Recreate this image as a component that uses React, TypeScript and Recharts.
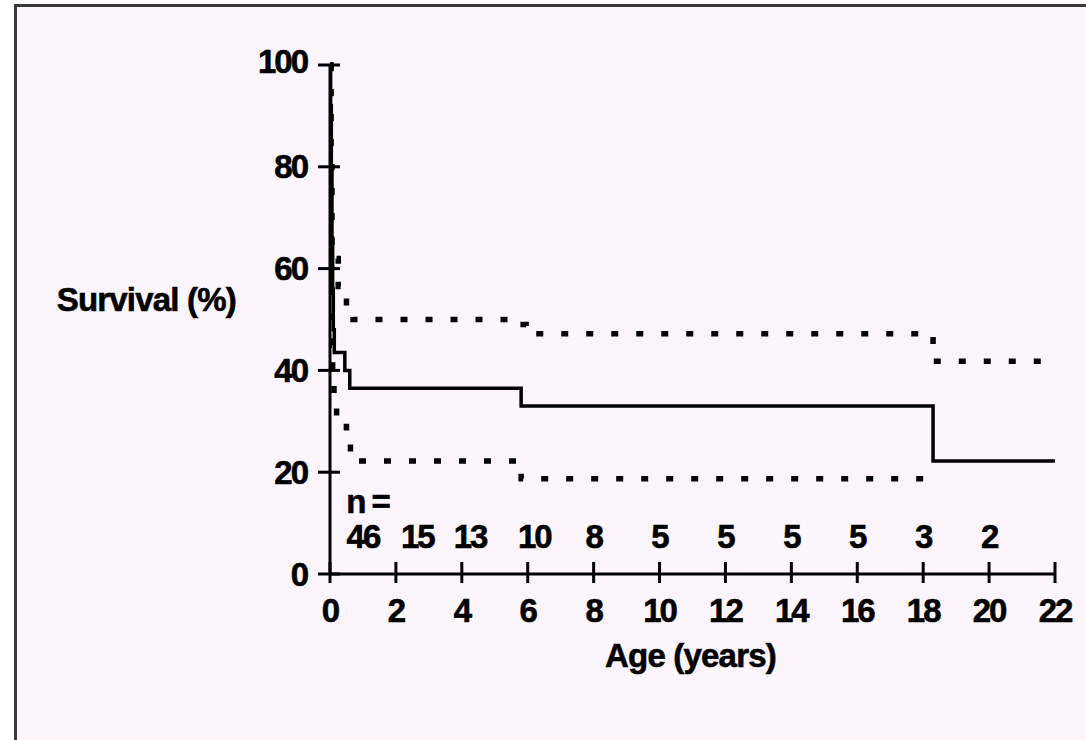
import { ComposedChart, Line, Scatter, XAxis, YAxis, Label } from 'recharts'

// Kaplan-Meier survival (step corners: [age in years, survival %])
const survivalSteps: [number, number][] = [
  [0, 100], [0.02, 92], [0.04, 80], [0.06, 66], [0.08, 56], [0.1, 48],
  [0.13, 43.5], [0.45, 40], [0.6, 36.5], [5.8, 33], [18.3, 22.2], [22, 22.2],
]
// 95% confidence limits
const upperSteps: [number, number][] = [
  [0, 100], [0.03, 80], [0.06, 62], [0.25, 56.5], [0.5, 52.5], [0.7, 50],
  [5.6, 49], [5.95, 47.2], [18.3, 41.8], [22, 41.8],
]
const lowerSteps: [number, number][] = [
  [0, 100], [0.02, 60], [0.05, 45], [0.08, 37.5], [0.12, 33.5], [0.2, 29],
  [0.5, 26.5], [0.62, 22.2], [5.8, 18.7], [18.3, 18.7],
]

// number at risk
const atRiskAges = [1, 2.65, 4.25, 6.2, 8, 10, 12, 14, 16, 18, 20]
const atRiskCounts = [46, 15, 13, 10, 8, 5, 5, 5, 5, 3, 2]

const xTicks = [0, 2, 4, 6, 8, 10, 12, 14, 16, 18, 20, 22]
const yTicks = [0, 20, 40, 60, 80, 100]

const FONT = '"Liberation Sans", Arial, sans-serif'
const ROW_Y = 7.3
const LABEL_Y = 14.3

const toPoints = (steps: [number, number][]) => steps.map(([x, y]) => ({ x, y }))

const textStyle = {
  fontFamily: FONT,
  fontWeight: 700,
  fontSize: 33,
  fill: '#000',
  stroke: '#000',
  strokeWidth: 0.6,
  letterSpacing: -2,
}

const titleStyle = { ...textStyle, fontSize: 33, letterSpacing: -0.8 }

function YTick({ x, y, payload }: any) {
  return (
    <g>
      <line x1={x - 12} x2={x + 10} y1={y} y2={y} stroke="#000" strokeWidth={3} />
      <text x={x - 23} y={y} dy={payload.value === 100 ? -4 : 0} textAnchor="end" dominantBaseline="central" style={textStyle}>
        {payload.value}
      </text>
    </g>
  )
}

function XTick({ x, y, payload }: any) {
  return (
    <g>
      <line x1={x} x2={x} y1={y - 12} y2={y + 9} stroke="#000" strokeWidth={3} />
      <text x={x} y={y + 36} textAnchor="middle" dominantBaseline="central" style={textStyle}>
        {payload.value}
      </text>
    </g>
  )
}

export default function App() {
  const atRisk = atRiskAges.map((x, i) => ({ x, y: ROW_Y, n: atRiskCounts[i] }))
  const nLabel = [{ x: 1.14, y: LABEL_Y, n: 'n =' }]

  return (
    <div style={{ position: 'absolute', left: 0, top: 0, width: 1086, height: 740, background: '#fff', overflow: 'hidden' }}>
      <div
        style={{
          position: 'absolute',
          left: 14,
          top: 4,
          width: 1090,
          height: 750,
          background: '#fcf6fc',
          borderLeft: '3px solid #3a383a',
          borderTop: '3px solid #3a383a',
        }}
      />
      <div style={{ position: 'absolute', left: 0, top: 0 }}>
        <ComposedChart width={1086} height={740} margin={{ top: 65, right: 31, bottom: 106, left: 270 }}>
          <XAxis
            type="number"
            dataKey="x"
            domain={[0, 22]}
            ticks={xTicks}
            interval={0}
            allowDataOverflow
            height={60}
            tickSize={0}
            tickMargin={0}
            tickLine={false}
            axisLine={{ stroke: '#000', strokeWidth: 3 }}
            tick={<XTick />}
          >
            <Label
              position="bottom"
              content={({ viewBox }: any) => (
                <text
                  x={viewBox.x + viewBox.width / 2 - 2}
                  y={viewBox.y + viewBox.height + 21}
                  textAnchor="middle"
                  dominantBaseline="central"
                  style={titleStyle}
                >
                  Age (years)
                </text>
              )}
            />
          </XAxis>
          <YAxis
            type="number"
            domain={[0, 100]}
            ticks={yTicks}
            interval={0}
            width={60}
            tickSize={0}
            tickMargin={0}
            tickLine={false}
            axisLine={{ stroke: '#000', strokeWidth: 3 }}
            tick={<YTick />}
          >
            <Label
              position="left"
              content={({ viewBox }: any) => (
                <text
                  x={viewBox.x - 34}
                  y={viewBox.y + viewBox.height / 2 - 20}
                  textAnchor="end"
                  dominantBaseline="central"
                  style={titleStyle}
                >
                  Survival (%)
                </text>
              )}
            />
          </YAxis>
          <Line
            data={toPoints(upperSteps)}
            dataKey="y"
            type="stepAfter"
            stroke="#000"
            strokeWidth={5.5}
            strokeDasharray="7 18"
            dot={false}
            activeDot={false}
            isAnimationActive={false}
          />
          <Line
            data={toPoints(lowerSteps)}
            dataKey="y"
            type="stepAfter"
            stroke="#000"
            strokeWidth={5.5}
            strokeDasharray="7 18"
            dot={false}
            activeDot={false}
            isAnimationActive={false}
          />
          <Line
            data={toPoints(survivalSteps)}
            dataKey="y"
            type="stepAfter"
            stroke="#000"
            strokeWidth={3.5}
            dot={false}
            activeDot={false}
            isAnimationActive={false}
          />
          <Scatter
            data={nLabel}
            dataKey="y"
            isAnimationActive={false}
            shape={(p: any) => (
              <text x={p.cx} y={p.cy} textAnchor="middle" dominantBaseline="central" style={textStyle}>
                {p.payload.n}
              </text>
            )}
          />
          <Scatter
            data={atRisk}
            dataKey="y"
            isAnimationActive={false}
            shape={(p: any) => (
              <text x={p.cx} y={p.cy} textAnchor="middle" dominantBaseline="central" style={textStyle}>
                {p.payload.n}
              </text>
            )}
          />
        </ComposedChart>
      </div>
    </div>
  )
}
